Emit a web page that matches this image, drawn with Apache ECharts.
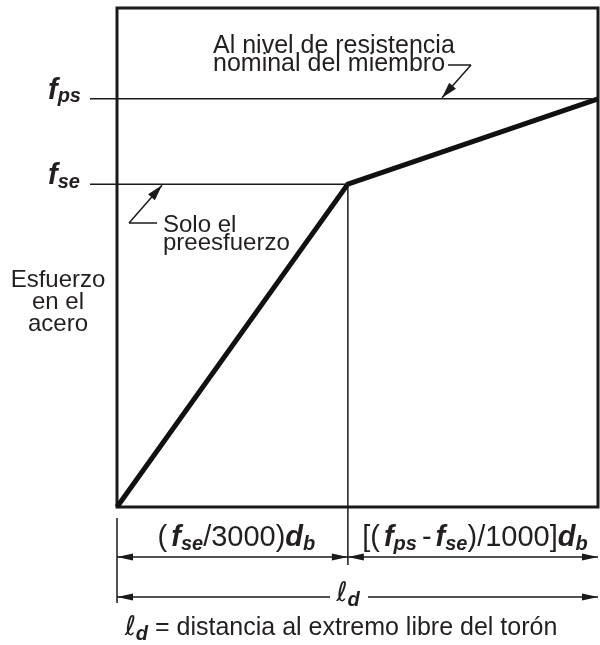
<!DOCTYPE html>
<html>
<head>
<meta charset="UTF-8">
<title>Esfuerzo en el acero</title>
<script src="https://cdn.jsdelivr.net/npm/echarts@6/dist/echarts.min.js"></script>
<style>
  html,body{margin:0;padding:0;background:#fff}
</style>
</head>
<body>
<div id="main" style="width:600px;height:645px"></div>
<script>
// datos: longitud (x, en % de ld) y esfuerzo del acero (y, relativo)
var longitud = [0, 48, 100];       // 0, (fse/3000)db, ld
var esfuerzo = [0, 64.7, 81.8];    // 0, fse, fps
var etiquetasY = ['se', 'ps'];     // subindices de f

var chart = echarts.init(document.getElementById('main'));
var FONT = '"Liberation Sans", Arial, Helvetica, sans-serif';
var TXT = '#231f20';
var LIN = '#1a1a1a';

chart.setOption({
  animation: false,
  grid: {left: 117, right: 2, top: 8, bottom: 138, show: true,
         borderColor: LIN, borderWidth: 3, backgroundColor: 'transparent'},
  xAxis: {type: 'value', min: 0, max: 100, show: false},
  yAxis: {type: 'value', min: 0, max: 100, show: false},
  series: [{
    type: 'line',
    data: longitud.map(function (x, i) { return [x, esfuerzo[i]]; }),
    symbol: 'none',
    clip: false,
    z: 5,
    lineStyle: {color: '#111', width: 5, join: 'miter', cap: 'butt'}
  }]
});

function px(x, y) { return chart.convertToPixel({gridIndex: 0}, [x, y]); }
var p0 = px(longitud[0], esfuerzo[0]);
var pB = px(longitud[1], esfuerzo[1]);
var pE = px(longitud[2], esfuerzo[2]);
var xL = p0[0], yBot = p0[1], xB = pB[0], yFse = pB[1], xR = pE[0], yFps = pE[1];

var g = [];
function linea(x1, y1, x2, y2, w) {
  g.push({type: 'line', z: 10, shape: {x1: x1, y1: y1, x2: x2, y2: y2},
          style: {stroke: LIN, lineWidth: w || 1.5}});
}
// punta de flecha con vertice en (tx,ty), viniendo desde (fx,fy)
function punta(tx, ty, fx, fy, len, hw) {
  var dx = tx - fx, dy = ty - fy, d = Math.sqrt(dx * dx + dy * dy);
  dx /= d; dy /= d;
  var bx = tx - dx * len, by = ty - dy * len;
  g.push({type: 'polygon', z: 11, shape: {points: [[tx, ty], [bx - dy * hw, by + dx * hw], [bx + dy * hw, by - dx * hw]]},
          style: {fill: LIN}});
}
function texto(x, y, txt, opts) {
  var st = {text: txt, fill: TXT, font: (opts.size || 24) + 'px ' + FONT,
            align: opts.align || 'left', textAlign: opts.align || 'left',
            verticalAlign: opts.va || 'middle', textVerticalAlign: opts.va || 'middle'};
  if (opts.lh) st.lineHeight = opts.lh;
  if (opts.rich) st.rich = opts.rich;
  g.push({type: 'text', z: 12, x: x, y: y, style: st});
}
var rich = {
  n: {fontSize: 29, fontFamily: FONT, color: TXT},
  p: {fontSize: 29, fontFamily: FONT, color: TXT, padding: [0, 4, 0, 0]},
  m: {fontSize: 29, fontFamily: FONT, color: TXT, padding: [0, 4, 0, 5]},
  f: {fontSize: 29, fontFamily: FONT, fontWeight: 'bold', fontStyle: 'italic', color: TXT},
  s: {fontSize: 20, fontFamily: FONT, fontWeight: 'bold', fontStyle: 'italic', color: TXT, padding: [12, 0, 0, 0]},
  l: {fontSize: 27, fontFamily: '"DejaVu Sans", ' + FONT, color: TXT},
  t: {fontSize: 25, fontFamily: FONT, color: TXT}
};
var richEje = {
  f: {fontSize: 29, fontFamily: FONT, fontWeight: 'bold', fontStyle: 'italic', color: TXT},
  s: {fontSize: 20, fontFamily: FONT, fontWeight: 'bold', fontStyle: 'italic', color: TXT, padding: [12, 0, 0, 0]}
};

// lineas horizontales fps y fse, vertical en el quiebre
linea(90, yFps, xR, yFps);
linea(90, yFse, xB, yFse);
linea(xB, yFse, xB, yBot + 58);
linea(xL, yBot + 11, xL, yBot + 96);

// cota 1
var yD1 = yBot + 50;
linea(xL, yD1, xB, yD1);
linea(xB, yD1, xR, yD1);
punta(xL, yD1, xL + 20, yD1, 16, 3.5);
punta(xB, yD1, xB - 20, yD1, 16, 3.5);
punta(xB, yD1, xB + 20, yD1, 16, 3.5);
punta(xR, yD1, xR - 20, yD1, 16, 3.5);

// cota ld
var yD2 = yBot + 90;
linea(xL, yD2, 330, yD2);
linea(368, yD2, xR, yD2);
punta(xL, yD2, xL + 20, yD2, 16, 3.5);
punta(xR, yD2, xR - 20, yD2, 16, 3.5);

// flechas de notas
linea(448, 65, 471, 65);
linea(471, 65, 442, yFps - 1);
punta(442, yFps - 1, 471, 65, 16, 4.5);
linea(157, 223, 129, 223);
linea(129, 223, 162, yFse + 1);
punta(162, yFse + 1, 129, 223, 16, 4.5);

// etiquetas del eje vertical
texto(48, yFps - 8, '{f|f}{s|' + etiquetasY[1] + '}', {rich: richEje});
texto(48, yFse - 8, '{f|f}{s|' + etiquetasY[0] + '}', {rich: richEje});
texto(58, 269, 'Esfuerzo\nen el\nacero', {align: 'center', va: 'top', lh: 22, size: 24});

// notas
texto(213, 37, 'Al nivel de resistencia\nnominal del miembro', {va: 'top', lh: 18, size: 25});
texto(163, 216, 'Solo el\npreesfuerzo', {va: 'top', lh: 18, size: 24});

// textos de cotas
texto((xL + xB) / 2 + 4, yD1 - 19, '{p|(}{f|f}{s|se}{n|/3000)}{f|d}{s|b}', {align: 'center', rich: rich});
texto((xB + xR) / 2 + 2, yD1 - 19, '{p|[(}{f|f}{s|ps}{m|-}{f|f}{s|se}{n|)/1000]}{f|d}{s|b}', {align: 'center', rich: rich});
texto(348, yD2 - 3, '{l|ℓ}{s|d}', {align: 'center', rich: rich});
texto(341, 628, '{l|ℓ}{s|d}{t| = distancia al extremo libre del torón}', {align: 'center', rich: rich});

chart.setOption({graphic: g});
</script>
</body>
</html>
